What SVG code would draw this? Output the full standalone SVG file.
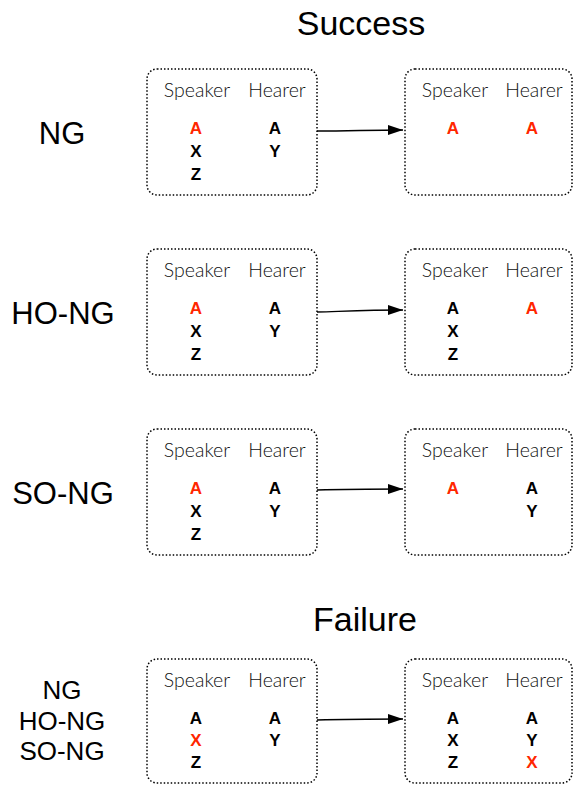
<svg xmlns="http://www.w3.org/2000/svg" width="574" height="785" viewBox="0 0 574 785">
<style>
.box{fill:none;stroke:#000;stroke-width:1.5;stroke-dasharray:1.5 2}
.hd{font-family:Lato,"Liberation Sans",sans-serif;font-weight:300;font-size:19.5px;fill:#111;text-anchor:middle}
.lt{font-family:"Liberation Sans",Arial,sans-serif;font-weight:bold;font-size:17px;fill:#000;text-anchor:middle}
.r{fill:#FF2600}
.lbl{font-family:"Liberation Sans",Arial,sans-serif;font-size:31px;fill:#000;text-anchor:middle}
.lbl2{font-family:"Liberation Sans",Arial,sans-serif;font-size:26px;fill:#000;text-anchor:middle}
.ttl{font-family:"Liberation Sans",Arial,sans-serif;font-size:34px;fill:#000;text-anchor:middle}
.con{fill:none;stroke:#000;stroke-width:1.3}
</style>
<defs>
<marker id="ah" markerWidth="16" markerHeight="10" refX="15" refY="5" orient="auto" markerUnits="userSpaceOnUse">
<path d="M0,0 L15,5 L0,10 Z" fill="#000"/>
</marker>
</defs>
<text class="ttl" x="361" y="35">Success</text>
<text class="ttl" x="365" y="631">Failure</text>

<g id="label-ng"><text class="lbl" x="62" y="144">NG</text></g>
<g id="label-hong"><text class="lbl" x="63" y="324">HO-NG</text></g>
<g id="label-song"><text class="lbl" x="63" y="504">SO-NG</text></g>
<g id="label-fail"><text class="lbl2" x="62" y="699">NG</text><text class="lbl2" x="62" y="730">HO-NG</text><text class="lbl2" x="62" y="760">SO-NG</text></g>

<g id="connectors">
<path class="con" d="M317,131 C350,131 370,130 403,130" marker-end="url(#ah)"/>
<path class="con" d="M317,312 C350,311 370,310 403,310" marker-end="url(#ah)"/>
<path class="con" d="M317,490 C350,489 370,489 403,489" marker-end="url(#ah)"/>
<path class="con" d="M317,720 C350,719 370,719 403,719" marker-end="url(#ah)"/>
</g>

<g id="ng-before">
<rect class="box" x="147" y="69" width="170" height="126" rx="10"/>
<text class="hd" x="197" y="97">Speaker</text><text class="hd" x="277" y="97">Hearer</text>
<text class="lt r" x="196" y="134">A</text><text class="lt" x="196" y="157">X</text><text class="lt" x="196" y="180">Z</text>
<text class="lt" x="275" y="134">A</text><text class="lt" x="275" y="157">Y</text>
</g>
<g id="ng-after">
<rect class="box" x="405" y="69" width="167" height="126" rx="10"/>
<text class="hd" x="455" y="97">Speaker</text><text class="hd" x="534" y="97">Hearer</text>
<text class="lt r" x="453" y="134">A</text>
<text class="lt r" x="532" y="134">A</text>
</g>

<g id="hong-before">
<rect class="box" x="147" y="249" width="170" height="126" rx="10"/>
<text class="hd" x="197" y="277">Speaker</text><text class="hd" x="277" y="277">Hearer</text>
<text class="lt r" x="196" y="314">A</text><text class="lt" x="196" y="337">X</text><text class="lt" x="196" y="360">Z</text>
<text class="lt" x="275" y="314">A</text><text class="lt" x="275" y="337">Y</text>
</g>
<g id="hong-after">
<rect class="box" x="405" y="249" width="167" height="126" rx="10"/>
<text class="hd" x="455" y="277">Speaker</text><text class="hd" x="534" y="277">Hearer</text>
<text class="lt" x="453" y="314">A</text><text class="lt" x="453" y="337">X</text><text class="lt" x="453" y="360">Z</text>
<text class="lt r" x="532" y="314">A</text>
</g>

<g id="song-before">
<rect class="box" x="147" y="429" width="170" height="126" rx="10"/>
<text class="hd" x="197" y="457">Speaker</text><text class="hd" x="277" y="457">Hearer</text>
<text class="lt r" x="196" y="494">A</text><text class="lt" x="196" y="517">X</text><text class="lt" x="196" y="540">Z</text>
<text class="lt" x="275" y="494">A</text><text class="lt" x="275" y="517">Y</text>
</g>
<g id="song-after">
<rect class="box" x="405" y="429" width="167" height="126" rx="10"/>
<text class="hd" x="455" y="457">Speaker</text><text class="hd" x="534" y="457">Hearer</text>
<text class="lt r" x="453" y="494">A</text>
<text class="lt" x="532" y="494">A</text><text class="lt" x="532" y="517">Y</text>
</g>

<g id="fail-before">
<rect class="box" x="147" y="659" width="170" height="124" rx="10"/>
<text class="hd" x="197" y="687">Speaker</text><text class="hd" x="277" y="687">Hearer</text>
<text class="lt" x="196" y="724">A</text><text class="lt r" x="196" y="746">X</text><text class="lt" x="196" y="768">Z</text>
<text class="lt" x="275" y="724">A</text><text class="lt" x="275" y="746">Y</text>
</g>
<g id="fail-after">
<rect class="box" x="405" y="659" width="167" height="124" rx="10"/>
<text class="hd" x="455" y="687">Speaker</text><text class="hd" x="534" y="687">Hearer</text>
<text class="lt" x="453" y="724">A</text><text class="lt" x="453" y="746">X</text><text class="lt" x="453" y="768">Z</text>
<text class="lt" x="532" y="724">A</text><text class="lt" x="532" y="746">Y</text><text class="lt r" x="532" y="768">X</text>
</g>
</svg>
